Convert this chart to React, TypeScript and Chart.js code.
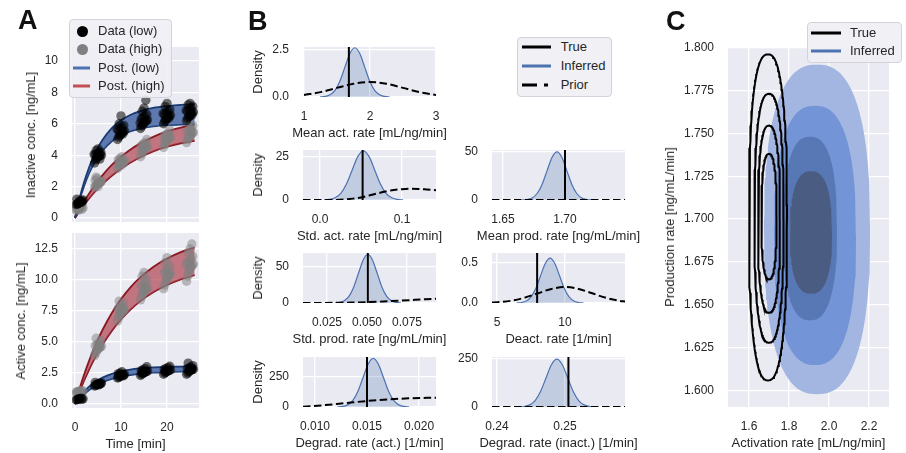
import React, { useEffect, useRef } from "react";
import { Chart, registerables } from "chart.js";
Chart.register(...registerables);

const FONT = "'Liberation Sans', Arial, Helvetica, sans-serif";
const INK = "#262626";
const PANEL_BG = "#eaeaf2";
const SNS_BLUE = "#4c72b0";
const SNS_RED = "#c44e52";

// ---------------- Panel A data ----------------
const sampleTimes = [1, 5, 10, 15, 20, 25];
const jitter = [-0.75, -0.5, -0.3, -0.1, 0.1, 0.3, 0.5, 0.75, -0.6, -0.2, 0.2, 0.6, -0.4, 0, 0.4, -0.85];

const inactLow = [
  [0.85, 0.9, 0.95, 1.0, 1.0, 1.05, 1.1, 1.15, 1.2, 0.95, 1.05, 1.0, 0.9, 1.1],
  [3.5, 3.7, 3.8, 3.85, 3.9, 3.95, 4.0, 4.0, 4.05, 4.1, 4.15, 4.2, 4.3, 4.4, 3.75, 4.05],
  [5.0, 5.15, 5.25, 5.3, 5.4, 5.45, 5.5, 5.55, 5.6, 5.7, 5.8, 5.9, 6.0, 6.5, 5.35, 5.65],
  [5.7, 5.85, 5.95, 6.0, 6.1, 6.15, 6.2, 6.25, 6.3, 6.4, 6.5, 6.6, 6.8, 7.0, 7.5, 6.05],
  [6.0, 6.15, 6.25, 6.3, 6.4, 6.45, 6.5, 6.55, 6.6, 6.7, 6.8, 6.9, 7.1, 7.3, 6.35, 6.65],
  [6.2, 6.35, 6.45, 6.5, 6.6, 6.65, 6.7, 6.75, 6.8, 6.9, 7.0, 7.1, 7.2, 7.3, 6.55, 6.85],
];
const inactHigh = [
  [0.5, 0.55, 0.6, 0.6, 0.65, 0.7, 0.55, 0.65, 0.6, 0.5],
  [1.95, 2.05, 2.1, 2.15, 2.2, 2.25, 2.3, 2.35, 2.4, 2.5, 2.2, 2.3, 2.6, 2.0],
  [3.15, 3.3, 3.4, 3.45, 3.5, 3.55, 3.6, 3.65, 3.7, 3.8, 3.9, 3.5, 3.6, 3.35],
  [3.9, 4.1, 4.2, 4.3, 4.4, 4.45, 4.5, 4.55, 4.6, 4.7, 4.8, 5.0, 4.35, 4.65],
  [4.5, 4.7, 4.8, 4.9, 5.0, 5.05, 5.1, 5.15, 5.2, 5.3, 5.4, 5.6, 4.95, 5.25],
  [4.8, 5.0, 5.1, 5.2, 5.3, 5.35, 5.4, 5.45, 5.5, 5.6, 5.7, 5.9, 6.1, 5.25, 5.55],
];
const actHigh = [
  [0.9, 0.95, 1.0, 1.0, 1.05, 1.1, 0.95, 1.05, 1.0],
  [3.9, 4.1, 4.3, 4.4, 4.5, 4.55, 4.6, 4.65, 4.7, 4.8, 4.9, 5.1, 5.3, 4.45, 4.75],
  [6.7, 7.0, 7.2, 7.3, 7.4, 7.5, 7.55, 7.6, 7.7, 7.8, 7.9, 8.1, 8.3, 7.45, 7.65],
  [8.4, 8.7, 8.9, 9.0, 9.1, 9.2, 9.3, 9.4, 9.5, 9.6, 9.8, 10.0, 10.3, 10.6, 9.25],
  [9.3, 9.6, 9.9, 10.1, 10.2, 10.3, 10.4, 10.5, 10.6, 10.7, 10.9, 11.1, 11.4, 11.8, 10.45],
  [9.9, 10.3, 10.6, 10.8, 11.0, 11.1, 11.2, 11.3, 11.4, 11.5, 11.7, 11.9, 12.2, 12.5, 12.9, 11.25],
];
const actLow = [
  [0.33, 0.37, 0.4, 0.4, 0.43, 0.47, 0.38, 0.42],
  [1.45, 1.5, 1.55, 1.58, 1.6, 1.62, 1.65, 1.7, 1.75, 1.6, 1.55, 1.65],
  [2.1, 2.15, 2.2, 2.25, 2.3, 2.3, 2.35, 2.4, 2.45, 2.5, 2.6, 2.28, 2.33],
  [2.3, 2.4, 2.45, 2.5, 2.55, 2.6, 2.6, 2.65, 2.7, 2.75, 2.85, 3.0, 2.58, 2.62],
  [2.4, 2.5, 2.55, 2.6, 2.65, 2.7, 2.7, 2.75, 2.8, 2.85, 2.95, 3.05, 2.68, 2.72],
  [2.4, 2.5, 2.6, 2.65, 2.7, 2.75, 2.8, 2.8, 2.85, 2.9, 3.0, 3.1, 3.3, 2.78, 2.82],
];

const curveT = [0, 1, 2, 3, 4, 5, 6, 8, 10, 12, 14, 17, 20, 23, 26];
const inactLowUp = [0, 1.26, 2.31, 3.17, 3.89, 4.49, 4.98, 5.72, 6.22, 6.56, 6.79, 7.01, 7.13, 7.21, 7.25];
const inactLowLo = [0, 1.14, 2.05, 2.81, 3.41, 3.9, 4.3, 4.89, 5.27, 5.52, 5.68, 5.83, 5.91, 5.95, 5.97];
const inactHighUp = [0, 0.55, 1.06, 1.53, 1.96, 2.36, 2.73, 3.38, 3.9, 4.35, 4.72, 5.17, 5.51, 5.76, 5.96];
const inactHighLo = [0, 0.44, 0.84, 1.22, 1.56, 1.88, 2.17, 2.69, 3.14, 3.52, 3.84, 4.24, 4.54, 4.76, 4.92];
const actHighUp = [0, 1.25, 2.39, 3.42, 4.36, 5.22, 5.99, 7.34, 8.46, 9.39, 10.15, 11.05, 11.73, 12.25, 12.63];
const actHighLo = [0, 0.99, 1.9, 2.72, 3.48, 4.17, 4.8, 5.9, 6.82, 7.59, 8.24, 9.01, 9.6, 10.05, 10.39];
const actLowUp = [0, 0.55, 1.0, 1.38, 1.68, 1.93, 2.13, 2.43, 2.64, 2.78, 2.87, 2.95, 3.0, 3.02, 3.04];
const actLowLo = [0, 0.44, 0.8, 1.11, 1.36, 1.57, 1.75, 2.02, 2.21, 2.34, 2.44, 2.53, 2.58, 2.61, 2.63];

const timeTicks = [0, 10, 20];
const timeTickLabels = ["0", "10", "20"];
const inactTicks = [0, 2, 4, 6, 8, 10];
const inactTickLabels = ["0", "2", "4", "6", "8", "10"];
const actTicks = [0, 2.5, 5, 7.5, 10, 12.5];
const actTickLabels = ["0.0", "2.5", "5.0", "7.5", "10.0", "12.5"];

// ---------------- Panel B data ----------------
const meanActPostX = [1.245, 1.32, 1.395, 1.47, 1.545, 1.62, 1.695, 1.77, 1.845, 1.92, 1.995, 2.07, 2.145, 2.22, 2.295];
const meanActPostY = [0.006, 0.029, 0.115, 0.354, 0.851, 1.589, 2.312, 2.62, 2.312, 1.589, 0.851, 0.354, 0.115, 0.029, 0.006];
const meanActPriorX = [1.0, 1.25, 1.5, 1.75, 2.0, 2.25, 2.5, 2.75, 3.0];
const meanActPriorY = [0.108, 0.259, 0.484, 0.704, 0.798, 0.704, 0.484, 0.259, 0.108];
const meanActTrue = 1.68;

const stdActPostX = [0.0047, 0.0116, 0.0185, 0.0254, 0.0323, 0.0392, 0.0461, 0.053, 0.0599, 0.0668, 0.0737, 0.0806, 0.0875, 0.0944, 0.1013];
const stdActPostY = [0.063, 0.316, 1.251, 3.856, 9.254, 17.285, 25.151, 28.5, 25.151, 17.285, 9.254, 3.856, 1.251, 0.316, 0.063];
const stdActPriorX = [-0.0207, 0, 0.02, 0.03, 0.04, 0.05, 0.06, 0.07, 0.08, 0.09, 0.1, 0.11, 0.12, 0.13, 0.1415];
const stdActPriorY = [0, 0, 0.05, 0.3, 0.8, 1.5, 2.6, 3.8, 4.9, 5.8, 6.3, 6.5, 6.4, 6.1, 5.7];
const stdActTrue = 0.052;

const meanProdPostX = [1.6655, 1.6695, 1.6735, 1.6775, 1.6815, 1.6855, 1.6895, 1.6935, 1.6975, 1.7015, 1.7055, 1.7095, 1.7135, 1.7175, 1.7215];
const meanProdPostY = [0.11, 0.555, 2.195, 6.765, 16.235, 30.325, 44.125, 50, 44.125, 30.325, 16.235, 6.765, 2.195, 0.555, 0.11];
const meanProdPriorX = [1.6411, 1.7484];
const meanProdPriorY = [0, 0];
const meanProdTrue = 1.7;

const stdProdPostX = [0.02985, 0.0328, 0.03575, 0.0387, 0.04165, 0.0446, 0.04755, 0.0505, 0.05345, 0.0564, 0.05935, 0.0623, 0.06525, 0.0682, 0.07115];
const stdProdPostY = [0.149, 0.749, 2.963, 9.133, 21.917, 40.939, 59.569, 67.5, 59.569, 40.939, 21.917, 9.133, 2.963, 0.749, 0.149];
const stdProdPriorX = [0.01, 0.02, 0.03, 0.04, 0.05, 0.06, 0.07, 0.08, 0.0931];
const stdProdPriorY = [0, 0.05, 0.25, 0.6, 1.2, 2.1, 3.2, 4.4, 6.0];
const stdProdTrue = 0.0505;

const deactPostX = [6.45, 6.8, 7.15, 7.5, 7.85, 8.2, 8.55, 8.9, 9.25, 9.6, 9.95, 10.3, 10.65, 11.0, 11.35];
const deactPostY = [0.0012, 0.0062, 0.0246, 0.0758, 0.1818, 0.3396, 0.4942, 0.56, 0.4942, 0.3396, 0.1818, 0.0758, 0.0246, 0.0062, 0.0012];
const deactPriorX = [4.632, 5, 6, 7, 8, 9, 10, 11, 12, 13, 14, 14.41];
const deactPriorY = [0.0055, 0.0088, 0.027, 0.065, 0.121, 0.176, 0.2, 0.176, 0.121, 0.065, 0.027, 0.0178];
const deactTrue = 7.95;

const degActPostX = [0.01217, 0.01266, 0.01315, 0.01364, 0.01413, 0.01462, 0.01511, 0.0156, 0.01609, 0.01658, 0.01707, 0.01756, 0.01805, 0.01854, 0.01903];
const degActPostY = [0.89, 4.5, 17.78, 54.8, 131.5, 245.6, 357.4, 405, 357.4, 245.6, 131.5, 54.8, 17.78, 4.5, 0.89];
const degActPriorX = [0.00885, 0.011, 0.013, 0.015, 0.017, 0.019, 0.02163];
const degActPriorY = [3, 16, 33, 50, 63, 72, 78];
const degActTrue = 0.015;

const degInactPostX = [0.2432, 0.244, 0.2448, 0.2456, 0.2464, 0.2472, 0.248, 0.2488, 0.2496, 0.2504, 0.2512, 0.252, 0.2528, 0.2536, 0.2544];
const degInactPostY = [0.54, 2.73, 10.8, 33.28, 79.88, 149.2, 217.1, 246, 217.1, 149.2, 79.88, 33.28, 10.8, 2.73, 0.54];
const degInactPriorX = [0.23926, 0.25882];
const degInactPriorY = [0, 0];
const degInactTrue = 0.2505;

// ---------------- Panel C data ----------------
const cTicksX = [1.6, 1.8, 2.0, 2.2];
const cTickLabelsX = ["1.6", "1.8", "2.0", "2.2"];
const cTicksY = [1.6, 1.625, 1.65, 1.675, 1.7, 1.725, 1.75, 1.775, 1.8];
const cTickLabelsY = ["1.600", "1.625", "1.650", "1.675", "1.700", "1.725", "1.750", "1.775", "1.800"];
const infCx = [1.94, 1.93, 1.905, 1.91];
const infCy = [1.694, 1.6905, 1.6945, 1.6922];
const infRx = [0.265, 0.205, 0.135, 0.105];
const infRy = [0.096, 0.0755, 0.0535, 0.0357];
const infColors = ["#a3b6e1", "#7394d6", "#5878b5", "#4b5c82"];
const trueCx = [1.695, 1.7, 1.7, 1.7];
const trueCy = [1.701, 1.7005, 1.7, 1.7015];
const trueRx = [0.095, 0.073, 0.055, 0.038];
const trueRy = [0.095, 0.0725, 0.0545, 0.0365];
const contourShape = 2.5;

// ---------------- helpers ----------------
const pts = (xs: number[], ys: number[]) => xs.map((x, i) => ({ x, y: ys[i] }));
function cluster(groups: number[][]) {
  const out: { x: number; y: number }[] = [];
  groups.forEach((vals, i) =>
    vals.forEach((v, j) => out.push({ x: sampleTimes[i] + jitter[j % jitter.length], y: v }))
  );
  return out;
}
function arc(cx: number, cy: number, rx: number, ry: number, from: number, to: number, steps: number) {
  const out: { x: number; y: number }[] = [];
  const e = 2 / contourShape;
  for (let i = 0; i <= steps; i++) {
    const t = from + ((to - from) * i) / steps;
    const c = Math.cos(t);
    const s = Math.sin(t);
    out.push({
      x: cx + rx * Math.sign(c) * Math.pow(Math.abs(c), e),
      y: cy + ry * Math.sign(s) * Math.pow(Math.abs(s), e),
    });
  }
  return out;
}

const bgPlugin = {
  id: "panelBg",
  beforeDraw(chart: any) {
    const { ctx, chartArea: a } = chart;
    ctx.save();
    ctx.fillStyle = PANEL_BG;
    ctx.fillRect(a.left, a.top, a.right - a.left, a.bottom - a.top);
    ctx.restore();
  },
};

type AxisSpec = {
  min: number;
  max: number;
  ticks: number[];
  labels: string[];
  title?: string;
  showLabels?: boolean;
};
type PlotSpec = {
  x0: number;
  y0: number;
  x1: number;
  y1: number;
  left: number;
  bottom: number;
  xAxis: AxisSpec;
  yAxis: AxisSpec;
  yTitleX?: number;
  datasets: any[];
};

function axisOpts(dir: "x" | "y", a: AxisSpec, size: number) {
  const isX = dir === "x";
  return {
    type: "linear",
    min: a.min,
    max: a.max,
    afterFit: (s: any) => {
      if (isX) s.height = size;
      else s.width = size;
      s.paddingTop = 0;
      s.paddingBottom = 0;
      s.paddingLeft = 0;
      s.paddingRight = 0;
    },
    afterBuildTicks: (s: any) => {
      s.ticks = a.ticks.map((v) => ({ value: v }));
    },
    ticks: {
      display: a.showLabels !== false,
      autoSkip: false,
      maxRotation: 0,
      minRotation: 0,
      padding: isX ? 12 : 14,
      color: INK,
      font: { family: FONT, size: 12 },
      callback: (_v: any, i: number) => a.labels[i],
    },
    grid: { color: "#ffffff", lineWidth: 1.3, drawTicks: false },
    border: { display: false },
    title: { display: false },
  };
}

const PAD_T = 10;
const PAD_R = 6;

function AxisTitle({ x, y, text, rotate }: { x: number; y: number; text: string; rotate?: boolean }) {
  return (
    <div
      style={{
        position: "absolute",
        left: x,
        top: y,
        transform: `translate(-50%, -50%)${rotate ? " rotate(-90deg)" : ""}`,
        fontFamily: FONT,
        fontSize: 13,
        lineHeight: "16px",
        color: INK,
        whiteSpace: "nowrap",
      }}
    >
      {text}
    </div>
  );
}

function ChartPlot({ spec }: { spec: PlotSpec }) {
  const ref = useRef<HTMLCanvasElement | null>(null);
  const w = spec.x1 - spec.x0 + spec.left + PAD_R;
  const h = spec.y1 - spec.y0 + PAD_T + spec.bottom;
  useEffect(() => {
    const chart = new Chart(ref.current as HTMLCanvasElement, {
      type: "line",
      data: { datasets: spec.datasets },
      options: {
        animation: false,
        responsive: false,
        maintainAspectRatio: false,
        devicePixelRatio: 1,
        events: [],
        layout: { padding: { top: PAD_T, right: PAD_R, left: 0, bottom: 0 }, autoPadding: false },
        plugins: { legend: { display: false }, tooltip: { enabled: false } },
        elements: { point: { radius: 0 }, line: { tension: 0 } },
        scales: {
          x: axisOpts("x", spec.xAxis, spec.bottom),
          y: axisOpts("y", spec.yAxis, spec.left),
        },
      } as any,
      plugins: [bgPlugin],
    });
    return () => chart.destroy();
  }, []);
  const cx = (spec.x0 + spec.x1) / 2;
  const cy = (spec.y0 + spec.y1) / 2;
  return (
    <>
      <canvas
        ref={ref}
        width={w}
        height={h}
        style={{ position: "absolute", left: spec.x0 - spec.left, top: spec.y0 - PAD_T, width: w, height: h }}
      />
      {spec.xAxis.title ? <AxisTitle x={cx} y={spec.y1 + 36} text={spec.xAxis.title} /> : null}
      {spec.yAxis.title ? <AxisTitle x={spec.yTitleX || 0} y={cy} text={spec.yAxis.title} rotate /> : null}
    </>
  );
}

// ---------------- Panel A specs ----------------
const bandLine = (xs: number[], ys: number[], color: string, fill: any, bg: string) => ({
  data: pts(xs, ys),
  borderColor: color,
  borderWidth: 1.8,
  fill,
  backgroundColor: bg,
  pointRadius: 0,
  cubicInterpolationMode: "monotone",
  order: 3,
});
const DARK_BLUE = "#1a3a70";
const DARK_RED = "#8a1822";
const BLUE_FILL = "rgba(58,92,158,0.8)";
const RED_FILL = "rgba(172,62,74,0.68)";
const scatterSet = (groups: number[][], color: string, order: number) => ({
  data: cluster(groups),
  showLine: false,
  pointRadius: 4.7,
  pointBackgroundColor: color,
  pointBorderWidth: 0,
  order,
});

const aTop: PlotSpec = {
  x0: 72, y0: 47, x1: 199, y1: 222, left: 72, bottom: 2, yTitleX: 31,
  xAxis: { min: -0.65, max: 26.95, ticks: timeTicks, labels: timeTickLabels, showLabels: false },
  yAxis: { min: -0.255, max: 10.89, ticks: inactTicks, labels: inactTickLabels, title: "Inactive conc. [ng/mL]" },
  datasets: [
    bandLine(curveT, inactLowUp, DARK_BLUE, 1, BLUE_FILL),
    bandLine(curveT, inactLowLo, DARK_BLUE, false, BLUE_FILL),
    bandLine(curveT, inactHighUp, DARK_RED, 3, RED_FILL),
    bandLine(curveT, inactHighLo, DARK_RED, false, RED_FILL),
    scatterSet(inactHigh, "rgba(128,128,128,0.5)", 2),
    scatterSet(inactLow, "rgba(0,0,0,0.55)", 1),
  ],
};
const aBottom: PlotSpec = {
  x0: 72, y0: 233, x1: 199, y1: 408, left: 72, bottom: 46, yTitleX: 20.5,
  xAxis: { min: -0.65, max: 26.95, ticks: timeTicks, labels: timeTickLabels, title: "Time [min]" },
  yAxis: { min: -0.32, max: 13.79, ticks: actTicks, labels: actTickLabels, title: "Active conc. [ng/mL]" },
  datasets: [
    bandLine(curveT, actHighUp, DARK_RED, 1, RED_FILL),
    bandLine(curveT, actHighLo, DARK_RED, false, RED_FILL),
    bandLine(curveT, actLowUp, DARK_BLUE, 3, BLUE_FILL),
    bandLine(curveT, actLowLo, DARK_BLUE, false, BLUE_FILL),
    scatterSet(actHigh, "rgba(128,128,128,0.5)", 2),
    scatterSet(actLow, "rgba(0,0,0,0.55)", 1),
  ],
};

// ---------------- Panel B specs ----------------
function densitySets(px: number[], py: number[], qx: number[], qy: number[], truth: number, yMax: number) {
  return [
    {
      data: pts(px, py),
      borderColor: SNS_BLUE,
      borderWidth: 1.2,
      fill: "origin",
      backgroundColor: "rgba(76,114,176,0.25)",
      cubicInterpolationMode: "monotone",
      order: 3,
    },
    {
      data: pts(qx, qy),
      borderColor: "#000000",
      borderWidth: 2,
      borderDash: [7.5, 3.5],
      fill: false,
      cubicInterpolationMode: "monotone",
      order: 2,
    },
    {
      data: [{ x: truth, y: 0 }, { x: truth, y: yMax }],
      borderColor: "#000000",
      borderWidth: 2,
      fill: false,
      order: 1,
    },
  ];
}
const BL = { x0: 303, x1: 436, left: 60 };
const BR = { x0: 492, x1: 625, left: 50 };
const rowY = [
  [47, 97],
  [150, 200],
  [253, 303],
  [357, 407],
];
const bSpec = (col: any, row: number, xa: AxisSpec, ya: AxisSpec, ds: any[]): PlotSpec => ({
  x0: col.x0, x1: col.x1, left: col.left, y0: rowY[row][0], y1: rowY[row][1], bottom: 46,
  xAxis: xa,
  yAxis: col === BL ? { ...ya, title: "Density" } : ya,
  yTitleX: 258,
  datasets: ds,
});

const bPlots: PlotSpec[] = [
  bSpec(BL, 0,
    { min: 0.985, max: 3.0, ticks: [1, 2, 3], labels: ["1", "2", "3"], title: "Mean act. rate [mL/ng/min]" },
    { min: 0, max: 2.66, ticks: [0, 2.5], labels: ["0.0", "2.5"] },
    densitySets(meanActPostX, meanActPostY, meanActPriorX, meanActPriorY, meanActTrue, 2.66)),
  bSpec(BL, 1,
    { min: -0.0207, max: 0.1415, ticks: [0, 0.1], labels: ["0.0", "0.1"], title: "Std. act. rate [mL/ng/min]" },
    { min: 0, max: 29, ticks: [0, 25], labels: ["0", "25"] },
    densitySets(stdActPostX, stdActPostY, stdActPriorX, stdActPriorY, stdActTrue, 29)),
  bSpec(BR, 1,
    { min: 1.6411, max: 1.7484, ticks: [1.65, 1.7], labels: ["1.65", "1.70"], title: "Mean prod. rate [ng/mL/min]" },
    { min: 0, max: 52, ticks: [0, 50], labels: ["0", "50"] },
    densitySets(meanProdPostX, meanProdPostY, meanProdPriorX, meanProdPriorY, meanProdTrue, 52)),
  bSpec(BL, 2,
    { min: 0.01, max: 0.0931, ticks: [0.025, 0.05, 0.075], labels: ["0.025", "0.050", "0.075"], title: "Std. prod. rate [ng/mL/min]" },
    { min: 0, max: 69.5, ticks: [0, 50], labels: ["0", "50"] },
    densitySets(stdProdPostX, stdProdPostY, stdProdPriorX, stdProdPriorY, stdProdTrue, 69.5)),
  bSpec(BR, 2,
    { min: 4.632, max: 14.41, ticks: [5, 10], labels: ["5", "10"], title: "Deact. rate [1/min]" },
    { min: 0, max: 0.625, ticks: [0, 0.5], labels: ["0.0", "0.5"] },
    densitySets(deactPostX, deactPostY, deactPriorX, deactPriorY, deactTrue, 0.625)),
  bSpec(BL, 3,
    { min: 0.00885, max: 0.02163, ticks: [0.01, 0.015, 0.02], labels: ["0.010", "0.015", "0.020"], title: "Degrad. rate (act.) [1/min]" },
    { min: 0, max: 417, ticks: [0, 250], labels: ["0", "250"] },
    densitySets(degActPostX, degActPostY, degActPriorX, degActPriorY, degActTrue, 417)),
  bSpec(BR, 3,
    { min: 0.23926, max: 0.25882, ticks: [0.24, 0.25], labels: ["0.24", "0.25"], title: "Degrad. rate (inact.) [1/min]" },
    { min: 0, max: 257, ticks: [0, 250], labels: ["0", "250"] },
    densitySets(degInactPostX, degInactPostY, degInactPriorX, degInactPriorY, degInactTrue, 257)),
];

// ---------------- Panel C spec ----------------
function contourSets() {
  const sets: any[] = [];
  infCx.forEach((_, k) => {
    const idx = sets.length;
    sets.push({
      data: arc(infCx[k], infCy[k], infRx[k], infRy[k], Math.PI, 0, 80),
      borderWidth: 0,
      borderColor: infColors[k],
      backgroundColor: infColors[k],
      fill: idx + 1,
      order: 10 - k,
    });
    sets.push({
      data: arc(infCx[k], infCy[k], infRx[k], infRy[k], Math.PI, 2 * Math.PI, 80),
      borderWidth: 0,
      borderColor: infColors[k],
      fill: false,
      order: 10 - k,
    });
  });
  trueCx.forEach((_, k) => {
    sets.push({
      data: arc(trueCx[k], trueCy[k], trueRx[k], trueRy[k], 0, 2 * Math.PI, 160),
      borderColor: "#000000",
      borderWidth: 2,
      fill: false,
      order: 1,
    });
  });
  return sets;
}
const cPlot: PlotSpec = {
  x0: 728, y0: 47, x1: 889, y1: 407, left: 73, bottom: 46, yTitleX: 670,
  xAxis: { min: 1.495, max: 2.3, ticks: cTicksX, labels: cTickLabelsX, title: "Activation rate [mL/ng/min]" },
  yAxis: { min: 1.5905, max: 1.8003, ticks: cTicksY, labels: cTickLabelsY, title: "Production rate [ng/mL/min]" },
  datasets: contourSets(),
};

// ---------------- legends ----------------
function LegendBox(props: { left: number; top: number; width: number; height: number; children: any }) {
  return (
    <div
      style={{
        position: "absolute",
        left: props.left,
        top: props.top,
        width: props.width,
        height: props.height,
        boxSizing: "border-box",
        background: "rgba(238,238,244,0.88)",
        border: "1px solid #d2d2da",
        borderRadius: 4,
      }}
    >
      {props.children}
    </div>
  );
}
function LegText({ x, y, text }: { x: number; y: number; text: string }) {
  return (
    <div style={{ position: "absolute", left: x, top: y - 8, fontSize: 13, lineHeight: "16px", color: INK, whiteSpace: "nowrap", fontFamily: FONT }}>
      {text}
    </div>
  );
}
function LegLine({ x1, x2, y, color, dashed }: { x1: number; x2: number; y: number; color: string; dashed?: boolean }) {
  return (
    <svg style={{ position: "absolute", left: x1, top: y - 2, overflow: "visible" }} width={x2 - x1} height={4}>
      <line x1={0} y1={2} x2={x2 - x1} y2={2} stroke={color} strokeWidth={3} strokeDasharray={dashed ? "15 7 4 20" : undefined} />
    </svg>
  );
}
function LegDot({ x, y, color }: { x: number; y: number; color: string }) {
  return <div style={{ position: "absolute", left: x - 5.5, top: y - 5.5, width: 11, height: 11, borderRadius: "50%", background: color }} />;
}

function Letter({ x, y, t }: { x: number; y: number; t: string }) {
  return (
    <div style={{ position: "absolute", left: x, top: y, fontFamily: FONT, fontWeight: "bold", fontSize: 27, lineHeight: "27px", color: "#111" }}>
      {t}
    </div>
  );
}

export default function App() {
  return (
    <div style={{ position: "fixed", left: 0, top: 0, width: 906, height: 453, background: "#ffffff", overflow: "hidden", fontFamily: FONT }}>
      <ChartPlot spec={aTop} />
      <ChartPlot spec={aBottom} />
      {bPlots.map((s, i) => (
        <ChartPlot key={i} spec={s} />
      ))}
      <ChartPlot spec={cPlot} />

      <LegendBox left={69} top={19} width={103} height={79}>
        <LegDot x={12} y={11} color="#000000" />
        <LegText x={28} y={11} text="Data (low)" />
        <LegDot x={12} y={29.3} color="#808080" />
        <LegText x={28} y={29.3} text="Data (high)" />
        <LegLine x1={3} x2={20} y={47.7} color={SNS_BLUE} />
        <LegText x={28} y={47.7} text="Post. (low)" />
        <LegLine x1={3} x2={20} y={66} color={SNS_RED} />
        <LegText x={28} y={66} text="Post. (high)" />
      </LegendBox>

      <LegendBox left={517} top={37} width={95} height={60}>
        <LegLine x1={4} x2={33} y={9.3} color="#000000" />
        <LegText x={42.7} y={9.3} text="True" />
        <LegLine x1={4} x2={33} y={28} color={SNS_BLUE} />
        <LegText x={42.7} y={28} text="Inferred" />
        <LegLine x1={4} x2={33} y={47} color="#000000" dashed />
        <LegText x={42.7} y={47} text="Prior" />
      </LegendBox>

      <LegendBox left={807} top={22} width={95} height={41}>
        <LegLine x1={2.7} x2={32.7} y={9.7} color="#000000" />
        <LegText x={42} y={9.7} text="True" />
        <LegLine x1={2.7} x2={32.7} y={28} color={SNS_BLUE} />
        <LegText x={42} y={28} text="Inferred" />
      </LegendBox>

      <Letter x={18} y={7} t="A" />
      <Letter x={248} y={8} t="B" />
      <Letter x={666} y={8} t="C" />
    </div>
  );
}
